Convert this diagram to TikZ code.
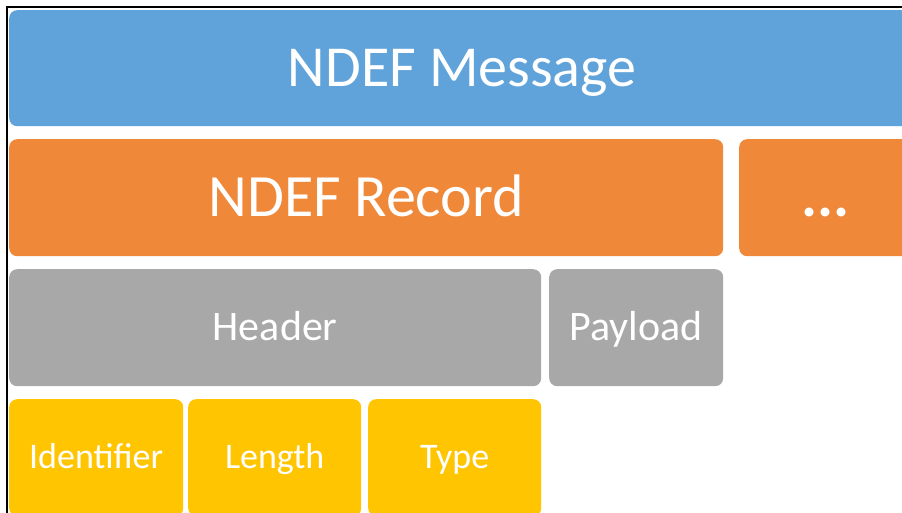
\documentclass[tikz,border=0pt]{standalone}
\usepackage{fontspec}
\setmainfont{Carlito}
\definecolor{msgblue}{HTML}{5FA3DA}
\definecolor{recorange}{HTML}{EF8839}
\definecolor{hdrgray}{HTML}{A8A8A8}
\definecolor{fldyellow}{HTML}{FFC501}
\begin{document}
\begin{tikzpicture}[x=1pt, y=-1pt]
    \tikzset{block/.style={%
      rectangle,%
      rounded corners=8pt,%
      draw=none,%
      text=white,%
      anchor=north west,%
      inner sep=0pt,%
      minimum height=117pt}%
    };
\tikzset{msgblock/.style={block, fill=msgblue, font=\fontsize{58}{62}\selectfont, text height=36pt, text depth=0pt}};
\tikzset{recblock/.style={block, fill=recorange, font=\fontsize{60}{64}\selectfont, text height=37pt, text depth=0pt}};
\tikzset{partblock/.style={block, fill=hdrgray, font=\fontsize{42}{45}\selectfont, text height=26pt, text depth=0pt}};
\tikzset{fieldblock/.style={block, fill=fldyellow, font=\fontsize{36}{39}\selectfont, text height=22pt, text depth=0pt}};

\useasboundingbox (0,0) rectangle (902,513);
\clip (0,0) rectangle (902,513);

%message
\node[msgblock, minimum width=906pt, minimum height=116pt] (message) at (9,10) {NDEF Message};

%records
\node[recblock, minimum width=714pt] (record) at (9,139) {NDEF Record};
\node[recblock, minimum width=172pt] (more) at (739,139) {\textbf{...}};

%header and payload
\node[partblock, minimum width=532pt] (header) at (9,269) {Header};
\node[partblock, minimum width=174pt] (payload) at (549,269) {Payload};

%header fields
\node[fieldblock, minimum width=174pt] (identifier) at (9,399) {Identifier};
\node[fieldblock, minimum width=173pt] (length) at (188,399) {Length};
\node[fieldblock, minimum width=173pt] (type) at (368,399) {Type};

%frame
\draw[line width=1.5pt] (7,513) -- (7,7) -- (902,7);

\end{tikzpicture}
\end{document}
